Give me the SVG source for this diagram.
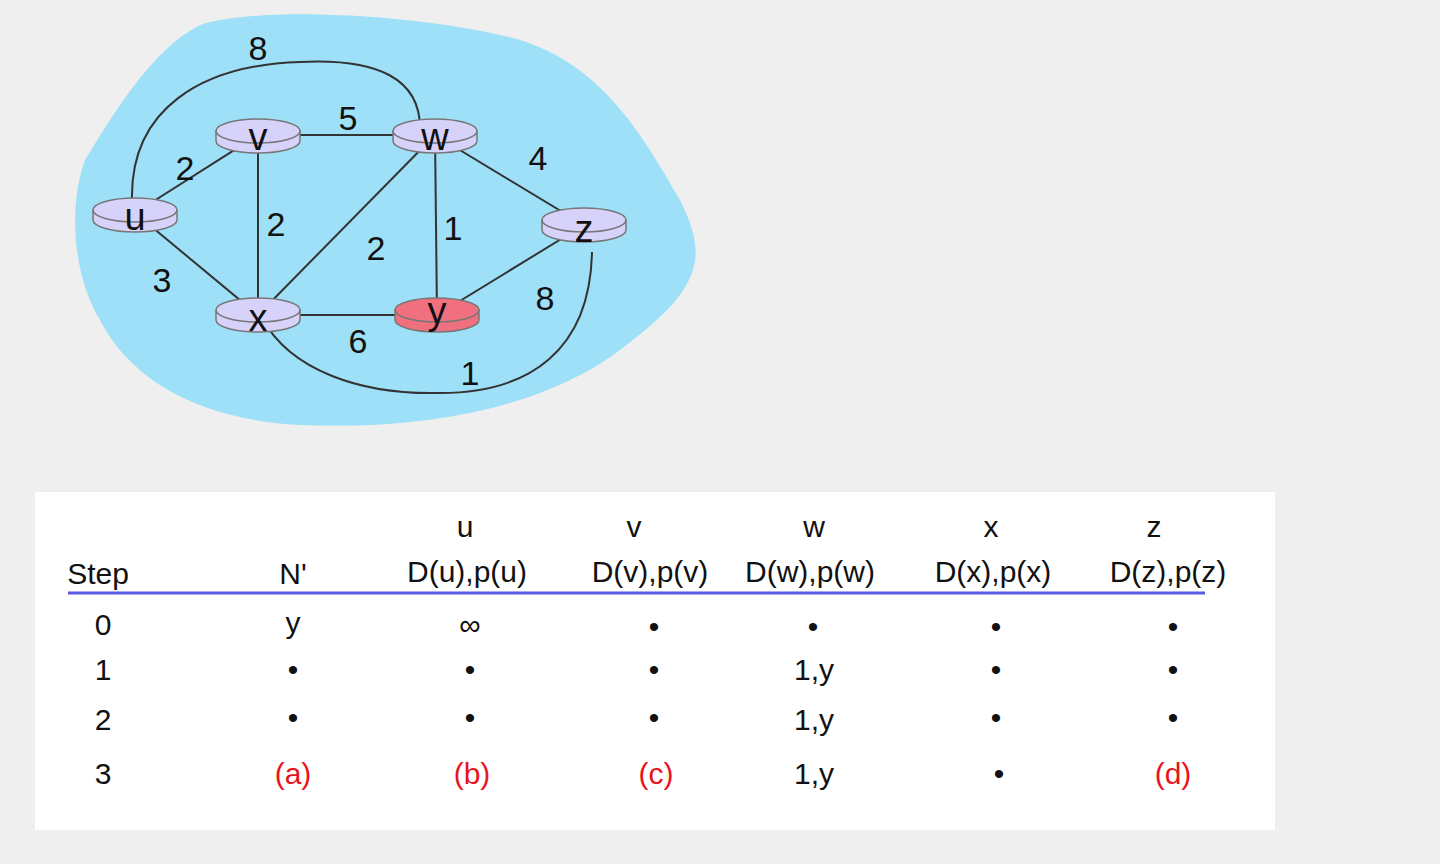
<svg xmlns="http://www.w3.org/2000/svg" width="1440" height="864" viewBox="0 0 1440 864">
<style>
.e{fill:none;stroke:#333;stroke-width:2}
.lb{font-family:"Liberation Sans",Arial,sans-serif;font-size:34px;fill:#111;text-anchor:middle}
.nl{font-family:"Liberation Sans",Arial,sans-serif;font-size:38px;fill:#111;text-anchor:middle}
.t{font-family:"Liberation Sans",Arial,sans-serif;font-size:30px;fill:#111;text-anchor:middle}
.r{fill:#e8141c}
.rt{fill:#d6d2fa;stroke:#777;stroke-width:1.5}
.ry{fill:#f07080;stroke:#777;stroke-width:1.5}
</style>
<rect width="1440" height="864" fill="#efefef"/>
<path d="M85,160 C110,120 150,50 200,25 C260,5 430,15 520,40 C600,65 640,130 680,200 C710,260 700,290 620,350 C540,410 420,430 300,425 C200,420 130,380 100,320 C70,270 70,200 85,160 Z" fill="#9ee0f8"/>
<g id="connectors">
<line class="e" x1="135" y1="213" x2="258" y2="135"/>
<line class="e" x1="135" y1="213" x2="258" y2="315"/>
<line class="e" x1="258" y1="135" x2="435" y2="135"/>
<line class="e" x1="258" y1="135" x2="258" y2="315"/>
<line class="e" x1="435" y1="135" x2="258" y2="315"/>
<line class="e" x1="435" y1="135" x2="437" y2="315"/>
<line class="e" x1="435" y1="135" x2="584" y2="225"/>
<line class="e" x1="258" y1="315" x2="437" y2="315"/>
<line class="e" x1="437" y1="315" x2="584" y2="225"/>
<path class="e" d="M132,200 C130,110 200,65 300,62 C380,58 420,80 420,128"/>
<path class="e" d="M262,318 C290,370 360,395 440,393 C530,393 590,350 592,252"/>
<text class="lb" x="258" y="60">8</text>
<text class="lb" x="348" y="130">5</text>
<text class="lb" x="185" y="180">2</text>
<text class="lb" x="276" y="236">2</text>
<text class="lb" x="376" y="260">2</text>
<text class="lb" x="453" y="240">1</text>
<text class="lb" x="538" y="170">4</text>
<text class="lb" x="162" y="292">3</text>
<text class="lb" x="545" y="310">8</text>
<text class="lb" x="358" y="353">6</text>
<text class="lb" x="470" y="385">1</text>
</g>
<g id="node-u"><path class="rt" d="M93,210 v10 a42,12 0 0 0 84,0 v-10 Z"/><ellipse class="rt" cx="135" cy="210" rx="42" ry="12"/><text class="nl" x="135" y="230">u</text></g>
<g id="node-v"><path class="rt" d="M216,131 v10 a42,12 0 0 0 84,0 v-10 Z"/><ellipse class="rt" cx="258" cy="131" rx="42" ry="12"/><text class="nl" x="258" y="150">v</text></g>
<g id="node-w"><path class="rt" d="M393,131 v10 a42,12 0 0 0 84,0 v-10 Z"/><ellipse class="rt" cx="435" cy="131" rx="42" ry="12"/><text class="nl" x="435" y="150">w</text></g>
<g id="node-z"><path class="rt" d="M542,220 v10 a42,12 0 0 0 84,0 v-10 Z"/><ellipse class="rt" cx="584" cy="220" rx="42" ry="12"/><text class="nl" x="584" y="242">z</text></g>
<g id="node-x"><path class="rt" d="M216,310 v10 a42,12 0 0 0 84,0 v-10 Z"/><ellipse class="rt" cx="258" cy="310" rx="42" ry="12"/><text class="nl" x="258" y="331">x</text></g>
<g id="node-y"><path class="ry" d="M395,310 v10 a42,12 0 0 0 84,0 v-10 Z"/><ellipse class="ry" cx="437" cy="310" rx="42" ry="12"/><text class="nl" x="437" y="324">y</text></g>
<g id="table">
<rect x="35" y="492" width="1240" height="338" fill="#fff"/>
<text class="t" x="465" y="537">u</text><text class="t" x="634" y="537">v</text><text class="t" x="814" y="537">w</text><text class="t" x="991" y="537">x</text><text class="t" x="1154" y="537">z</text>
<text class="t" x="98" y="584">Step</text><text class="t" x="293" y="584">N'</text>
<text class="t" x="467" y="582">D(u),p(u)</text><text class="t" x="650" y="582">D(v),p(v)</text><text class="t" x="810" y="582">D(w),p(w)</text><text class="t" x="993" y="582">D(x),p(x)</text><text class="t" x="1168" y="582">D(z),p(z)</text>
<line x1="68" y1="593" x2="1205" y2="593" stroke="#5a5ae6" stroke-width="3"/>
<text class="t" x="103" y="635">0</text><text class="t" x="293" y="633">y</text><text class="t" x="470" y="635">∞</text><text class="t" x="654" y="637">•</text><text class="t" x="813" y="637">•</text><text class="t" x="996" y="637">•</text><text class="t" x="1173" y="637">•</text>
<text class="t" x="103" y="680">1</text><text class="t" x="293" y="680">•</text><text class="t" x="470" y="680">•</text><text class="t" x="654" y="680">•</text><text class="t" x="814" y="680">1,y</text><text class="t" x="996" y="680">•</text><text class="t" x="1173" y="680">•</text>
<text class="t" x="103" y="730">2</text><text class="t" x="293" y="728">•</text><text class="t" x="470" y="728">•</text><text class="t" x="654" y="728">•</text><text class="t" x="814" y="730">1,y</text><text class="t" x="996" y="728">•</text><text class="t" x="1173" y="728">•</text>
<text class="t" x="103" y="784">3</text><text class="t r" x="293" y="784">(a)</text><text class="t r" x="472" y="784">(b)</text><text class="t r" x="656" y="784">(c)</text><text class="t" x="814" y="784">1,y</text><text class="t" x="999" y="784">•</text><text class="t r" x="1173" y="784">(d)</text>
</g>
</svg>
